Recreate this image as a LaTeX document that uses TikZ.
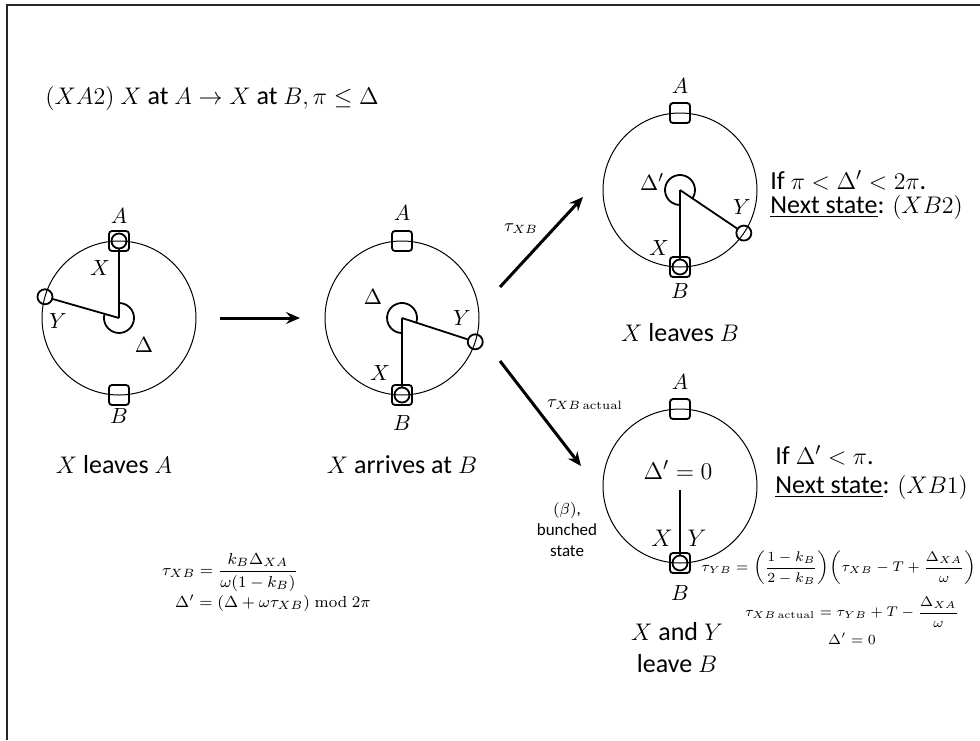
\documentclass[tikz,border=0pt]{standalone}
\usepackage{amsmath}
\usepackage[no-math]{fontspec}
\setmainfont{Carlito}
\usetikzlibrary{arrows.meta}
\begin{document}
\begin{tikzpicture}[x=0.5pt,y=-0.5pt,
  rim/.style={line width=0.5pt},
  stn/.style={draw, rounded corners=1.5pt, minimum size=10pt, inner sep=0pt, line width=0.9pt},
  ball/.style={draw, circle, minimum size=7.5pt, inner sep=0pt, line width=0.9pt},
  hand/.style={line width=0.9pt},
  lbl/.style={inner sep=0pt, font=\fontsize{11}{13}\selectfont},
  big/.style={inner sep=0pt, font=\fontsize{13}{15}\selectfont},
  eq/.style={inner sep=0pt, font=\fontsize{7.2}{9}\selectfont},
  small/.style={inner sep=0pt, font=\fontsize{8.5}{10.5}\selectfont, align=center},
  flow/.style={line width=1.5pt, -{Stealth[length=7pt,width=6pt,inset=2.5pt]}},
]
\useasboundingbox (0,0) rectangle (980,740);
\draw[line width=1pt, black!85] (7,740) -- (7,5) -- (980,5);

% title
\node[big, anchor=west] (title) at (45,98) {$(XA2)$ $X$ at $A\rightarrow X$ at $B,\pi\leq\Delta$};

% ---------- circle 1 ----------
\coordinate (c1) at (119,318);
\draw[rim] (c1) circle[radius=38.5pt];
\node[stn] (A1) at ([yshift=38.5pt]c1) {};
\node[stn] (B1) at ([yshift=-38.5pt]c1) {};
\node[ball] (X1) at (A1) {};
\node[ball] (Y1) at ([shift={(164:38.5pt)}]c1) {};
\draw[hand] (c1) -- (X1);
\draw[hand] (c1) -- (Y1);
\draw[hand] ([shift={(90:7.5pt)}]c1) arc[start angle=90, end angle=-196, radius=7.5pt];
\node[lbl] (lA1) at (119,216) {$A$};
\node[lbl] (lB1) at (119,416) {$B$};
\node[lbl] (lX1) at (100,268) {$X$};
\node[lbl] (lY1) at (58,321) {$Y$};
\node[lbl] (lD1) at (144,345) {$\Delta$};
\node[big] (cap1) at (114,465) {$X$ leaves $A$};

% ---------- circle 2 ----------
\coordinate (c2) at (402,318);
\draw[rim] (c2) circle[radius=38.5pt];
\node[stn] (A2) at ([yshift=38.5pt]c2) {};
\node[stn] (B2) at ([yshift=-38.5pt]c2) {};
\node[ball] (X2) at (B2) {};
\node[ball] (Y2) at ([shift={(-18:38.5pt)}]c2) {};
\draw[hand] (c2) -- (X2);
\draw[hand] (c2) -- (Y2);
\draw[hand] ([shift={(-18:7.5pt)}]c2) arc[start angle=-18, end angle=270, radius=7.5pt];
\node[lbl] (lA2) at (402,213) {$A$};
\node[lbl] (lB2) at (402,423) {$B$};
\node[lbl] (lX2) at (380,373) {$X$};
\node[lbl] (lY2) at (462,318) {$Y$};
\node[lbl] (lD2) at (373,297) {$\Delta$};
\node[big] (cap2) at (402,465) {$X$ arrives at $B$};

% ---------- circle 3 ----------
\coordinate (c3) at (680,190);
\draw[rim] (c3) circle[radius=38.5pt];
\node[stn] (A3) at ([yshift=38.5pt]c3) {};
\node[stn] (B3) at ([yshift=-38.5pt]c3) {};
\node[ball] (X3) at (B3) {};
\node[ball] (Y3) at ([shift={(-34:38.5pt)}]c3) {};
\draw[hand] (c3) -- (X3);
\draw[hand] (c3) -- (Y3);
\draw[hand] ([shift={(-34:7.5pt)}]c3) arc[start angle=-34, end angle=270, radius=7.5pt];
\node[lbl] (lA3) at (680,86) {$A$};
\node[lbl] (lB3) at (680,291) {$B$};
\node[lbl] (lX3) at (659,248) {$X$};
\node[lbl] (lY3) at (742,207) {$Y$};
\node[lbl] (lD3) at (652,182) {$\Delta'$};
\node[big] (cap3) at (680,333) {$X$ leaves $B$};
\node[big, anchor=west] (cond3) at (770,180) {If $\pi<\Delta'<2\pi$.};
\node[big, anchor=west] (next3) at (770,207) {\underline{Next state}: $(XB2)$};

% ---------- circle 4 ----------
\coordinate (c4) at (680,486);
\coordinate (h4) at (680,490);
\draw[rim] (c4) circle[radius=38.5pt];
\node[stn] (A4) at ([yshift=38.5pt]c4) {};
\node[stn] (B4) at ([yshift=-38.5pt]c4) {};
\node[ball] (X4) at (B4) {};
\draw[hand] (h4) -- (X4);
\node[lbl] (lA4) at (680,382) {$A$};
\node[lbl] (lB4) at (680,593) {$B$};
\node[lbl, font=\fontsize{12}{14}\selectfont] (lX4) at (662,538) {$X$};
\node[lbl, font=\fontsize{12}{14}\selectfont] (lY4) at (697,538) {$Y$};
\node[big] (lD4) at (678,470) {$\Delta'=0$};
\node[big, align=center] (cap4) at (677,648) {$X$ and $Y$\\[1pt]leave $B$};
\node[big, anchor=west] (cond4) at (775,455) {If $\Delta'<\pi$.};
\node[big, anchor=west] (next4) at (775,487) {\underline{Next state}: $(XB1)$};
\node[small] (beta) at (567,530) {$(\beta)$,\\bunched\\state};

% ---------- arrows ----------
\coordinate (s1) at (220,318);
\coordinate (e1) at (300,318);
\draw[flow] (s1) -- (e1);
\coordinate (s2) at (500,287);
\coordinate (e2) at (583,197);
\draw[flow] (s2) -- (e2);
\coordinate (s3) at (500,361);
\coordinate (e3) at (581,466);
\draw[flow] (s3) -- (e3);
\node[eq, font=\fontsize{9}{11}\selectfont] (t2) at (521,229) {$\tau_{XB}$};
\node[eq, font=\fontsize{9}{11}\selectfont] (t3) at (585,405) {$\tau_{XB\,\mathrm{actual}}$};

% ---------- formulas ----------
\node[eq, font=\fontsize{8}{10}\selectfont] (f1) at (230,572) {$\displaystyle \tau_{XB}=\frac{k_B\Delta_{XA}}{\omega(1-k_B)}$};
\node[eq, font=\fontsize{8}{10}\selectfont] (f2) at (273,603) {$\Delta'=(\Delta+\omega\tau_{XB})\bmod 2\pi$};
\node[eq, font=\fontsize{7}{9}\selectfont, anchor=east] (f3) at (977,568) {$\displaystyle \tau_{YB}={\left(\frac{1-k_B}{2-k_B}\right)}{\left(\tau_{XB}-T+\frac{\Delta_{XA}}{\omega}\right)}$};
\node[eq] (f4) at (852,612) {$\displaystyle \tau_{XB\,\mathrm{actual}}=\tau_{YB}+T-\frac{\Delta_{XA}}{\omega}$};
\node[eq] (f5) at (852,639) {$\Delta'=0$};
\end{tikzpicture}
\end{document}
